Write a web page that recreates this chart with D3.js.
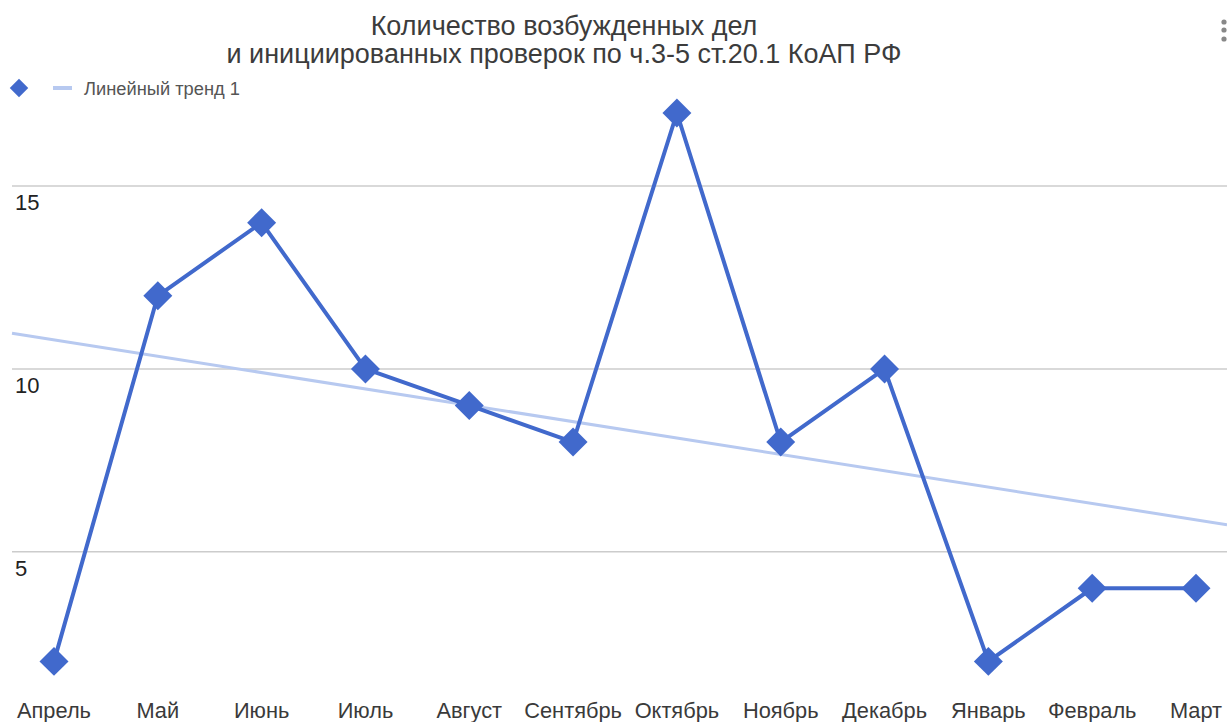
<!DOCTYPE html>
<html>
<head>
<meta charset="utf-8">
<script src="https://cdn.jsdelivr.net/npm/d3@7"></script>
<style>
  body { margin: 0; background: #fff; }
  svg { display: block; font-family: "Liberation Sans", Arial, sans-serif; }
</style>
</head>
<body>
<div id="chart"></div>
<script>
// data
const months = ["Апрель", "Май", "Июнь", "Июль", "Август", "Сентябрь",
                "Октябрь", "Ноябрь", "Декабрь", "Январь", "Февраль", "Март"];
const counts = [2, 12, 14, 10, 9, 8, 17, 8, 10, 2, 4, 4];
const yTicks = [5, 10, 15];
const titleLines = ["Количество возбужденных дел",
                    "и инициированных проверок по ч.3-5 ст.20.1 КоАП РФ"];
const legendLabel = "Линейный тренд 1";

const width = 1227;
const height = 722;
const plot = {left: 12, right: 1227};
const lineColor = "#4169cc";
const trendColor = "#b7c9f0";

const svg = d3.select("#chart")
  .append("svg")
  .attr("width", width)
  .attr("height", height);

const x = d3.scalePoint()
  .domain(months)
  .range([54, 1196]);

// index scale, used to extend the trend line over the whole plot
const xi = d3.scaleLinear()
  .domain([0, months.length - 1])
  .range([54, 1196]);

const y = d3.scaleLinear()
  .domain([5, 15])
  .range([551.7, 186.1]);

// gridlines + y labels
svg.append("g")
  .selectAll("line")
  .data(yTicks)
  .join("line")
    .attr("x1", plot.left)
    .attr("x2", plot.right)
    .attr("y1", d => y(d))
    .attr("y2", d => y(d))
    .attr("stroke", "#cccccc")
    .attr("stroke-width", 1.5);

svg.append("g")
  .selectAll("text")
  .data(yTicks)
  .join("text")
    .attr("x", 15)
    .attr("y", d => y(d) + 24)
    .attr("font-size", 22)
    .attr("fill", "#222")
    .text(d => d);

// x labels
svg.append("g")
  .selectAll("text")
  .data(months)
  .join("text")
    .attr("x", d => x(d))
    .attr("y", 718)
    .attr("text-anchor", "middle")
    .attr("font-size", 21.8)
    .attr("fill", "#3a3a3a")
    .text(d => d);

// linear trend (least squares over the series)
const mx = d3.mean(counts, (d, i) => i);
const my = d3.mean(counts);
const sxy = d3.sum(counts, (d, i) => (i - mx) * (d - my));
const sxx = d3.sum(counts, (d, i) => (i - mx) * (i - mx));
const slope = sxy / sxx;
const icpt = my - slope * mx;
const i0 = xi.invert(plot.left);
const i1 = xi.invert(plot.right);

svg.append("line")
  .attr("x1", plot.left)
  .attr("x2", plot.right)
  .attr("y1", y(icpt + slope * i0))
  .attr("y2", y(icpt + slope * i1))
  .attr("stroke", trendColor)
  .attr("stroke-width", 3);

// main series
const line = d3.line()
  .x((d, i) => x(months[i]))
  .y(d => y(d));

svg.append("path")
  .datum(counts)
  .attr("fill", "none")
  .attr("stroke", lineColor)
  .attr("stroke-width", 4)
  .attr("stroke-linejoin", "round")
  .attr("d", line);

const diamond = d3.symbol().type(d3.symbolSquare).size(420);

svg.append("g")
  .selectAll("path")
  .data(counts)
  .join("path")
    .attr("d", diamond)
    .attr("transform", (d, i) => `translate(${x(months[i])},${y(d)}) rotate(45)`)
    .attr("fill", lineColor);

// title
svg.append("g")
  .selectAll("text")
  .data(titleLines)
  .join("text")
    .attr("x", 564)
    .attr("y", (d, i) => 35 + i * 28)
    .attr("text-anchor", "middle")
    .attr("font-size", 27)
    .attr("fill", "#3c3c3c")
    .text(d => d);

// legend
svg.append("path")
  .attr("d", d3.symbol().type(d3.symbolSquare).size(170))
  .attr("transform", "translate(19,88) rotate(45)")
  .attr("fill", lineColor);

svg.append("line")
  .attr("x1", 53).attr("x2", 72)
  .attr("y1", 88).attr("y2", 88)
  .attr("stroke", trendColor)
  .attr("stroke-width", 4);

svg.append("text")
  .attr("x", 84)
  .attr("y", 95)
  .attr("font-size", 18.3)
  .attr("fill", "#555")
  .text(legendLabel);

// menu dots in the corner
svg.append("g")
  .selectAll("circle")
  .data([22, 30, 39])
  .join("circle")
    .attr("cx", 1224)
    .attr("cy", d => d)
    .attr("r", 2.6)
    .attr("fill", "#888");
</script>
</body>
</html>
